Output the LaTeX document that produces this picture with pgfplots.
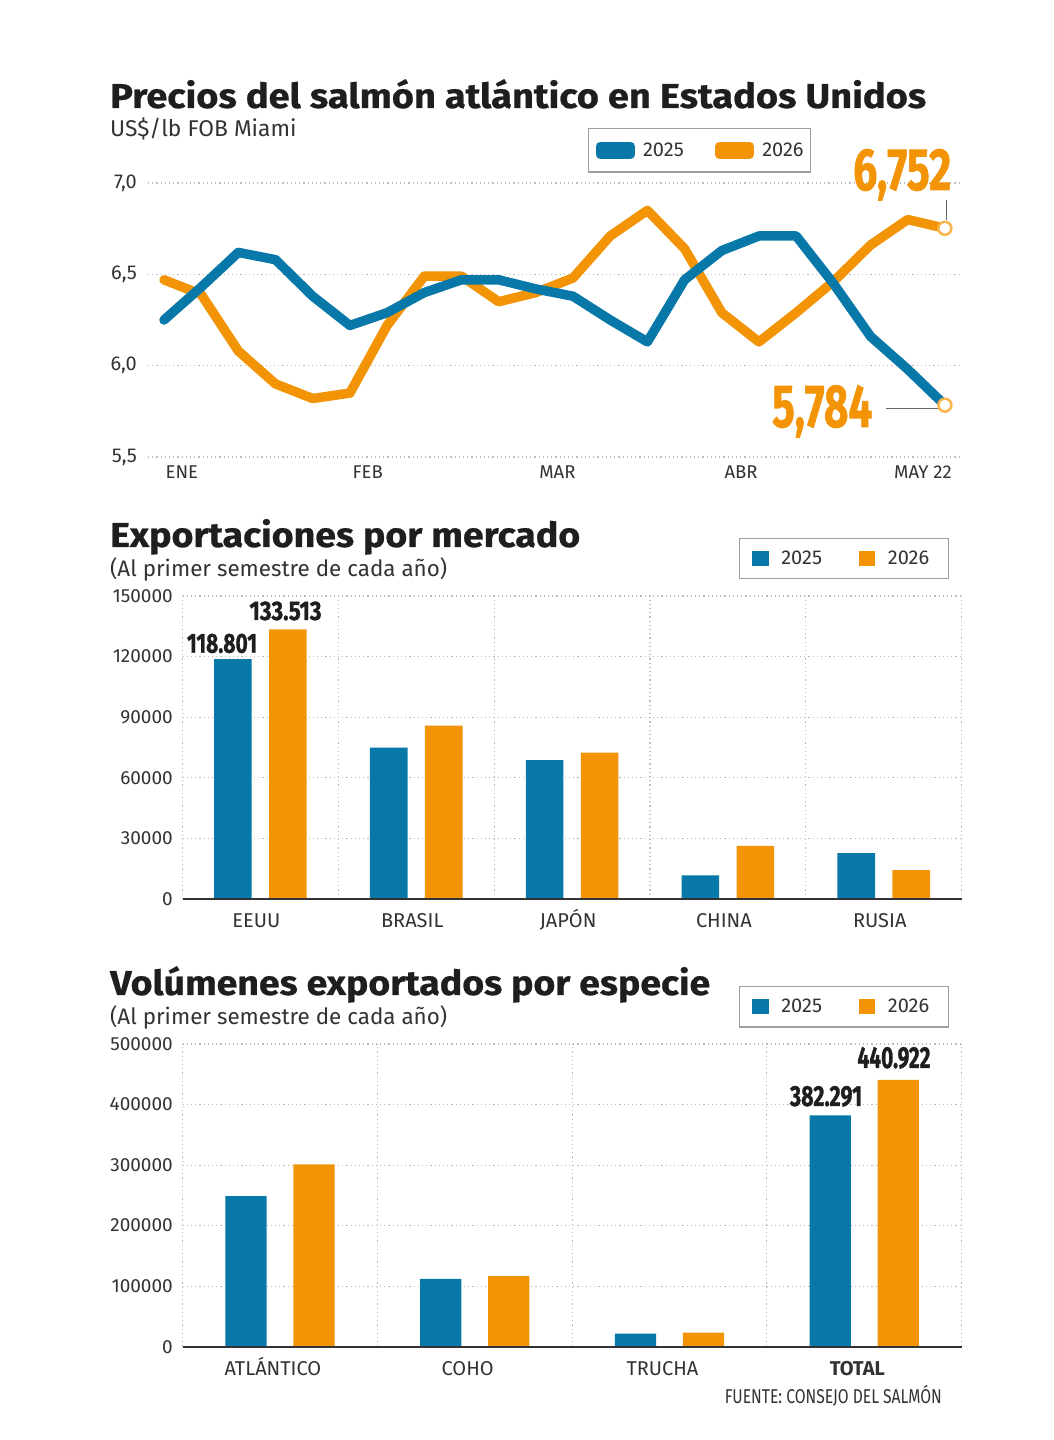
\documentclass[border=0pt]{standalone}
\usepackage{pgfplots}
\pgfplotsset{compat=1.18}
\usepackage{fontspec}
\setmainfont{Fira Sans}
\newfontfamily\titlefont{Fira Sans}[BoldFeatures={FakeBold=0.6}]
\newfontfamily\numfont{Fira Sans}[BoldFeatures={FakeBold=1.2}]
\usepackage{graphicx}
\definecolor{cblue}{HTML}{0878A8}
\definecolor{corange}{HTML}{F39407}
\definecolor{clight}{HTML}{F7B54A}
\definecolor{txt}{HTML}{1E1E1E}
\definecolor{tickc}{HTML}{333333}
\definecolor{gridc}{HTML}{BBBBBB}
\newcommand\fs[1]{\fontsize{#1}{#1}\selectfont}
\pgfplotsset{
  common/.style={
    scale only axis,
    axis line style={draw=none},
    major tick length=0pt, minor tick length=0pt,
    tick style={draw=none},
    grid style={gridc, line width=1.1pt, dash pattern=on 1.2pt off 3pt},
    minor grid style={gridc, line width=1.1pt, dash pattern=on 1.2pt off 3pt},
    tick label style={text=tickc},
    /pgf/number format/assume math mode=true,
    clip=false,
  },
  barlegend/.style={
    legend columns=2,
    legend style={anchor=north west, draw=gray!75, line width=1.1pt,
      font=\fs{20}, text=tickc, inner xsep=12.4pt, inner ysep=12.5pt,
      nodes={inner sep=0pt, text=tickc},
      /tikz/every odd column/.append style={column sep=12.7pt},
      /tikz/every even column/.append style={column sep=36.6pt}},
  },
}
\begin{document}
\begin{tikzpicture}
\path[use as bounding box] (0pt,0pt) rectangle (1054pt,1440pt);
\fill[white] (0pt,0pt) rectangle (1054pt,1440pt);

% ---------- titles ----------
\node[anchor=base west, inner sep=0pt, text=txt] at (110pt,1332pt) {\resizebox{816pt}{\height}{\fs{34.5}\titlefont\bfseries Precios del salmón atlántico en Estados Unidos}};
\node[anchor=base west, inner sep=0pt, text=tickc, font=\fs{22.8}] at (110pt,1303pt) {US\$/lb FOB Miami};

\node[anchor=base west, inner sep=0pt, text=txt] at (110pt,893pt) {\resizebox{470pt}{\height}{\fs{34.5}\titlefont\bfseries Exportaciones por mercado}};
\node[anchor=base west, inner sep=0pt, text=tickc, font=\fs{22.4}] at (110pt,863pt) {(Al primer semestre de cada año)};

\node[anchor=base west, inner sep=0pt, text=txt] at (110pt,445pt) {\resizebox{600pt}{\height}{\fs{34.5}\titlefont\bfseries Volúmenes exportados por especie}};
\node[anchor=base west, inner sep=0pt, text=tickc, font=\fs{22.4}] at (110pt,415pt) {(Al primer semestre de cada año)};

% ---------- line chart ----------
\begin{axis}[common,
  at={(148pt,983pt)}, anchor=south west, width=814pt, height=274pt,
  xmin=-0.43, xmax=21.46, ymin=5.5, ymax=7.0,
  ytick={5.5,6.0,6.5,7.0}, ymajorgrids,
  yticklabel style={anchor=east, inner sep=0pt, xshift=-11pt, font=\fs{20},
    /pgf/number format/.cd, use comma, fixed, fixed zerofill, precision=1},
  xtick={0.48,5.48,10.58,15.52,20.41}, xticklabels={ENE,FEB,MAR,ABR,MAY 22},
  xticklabel style={anchor=base, inner sep=0pt, yshift=-22pt, font=\fs{18.5}},
  legend columns=2, reverse legend,
  legend style={at={(0.5405,1.2007)}, anchor=north west, draw=gray!75, line width=1.1pt,
    font=\fs{20}, inner xsep=7pt, inner ysep=13pt,
    nodes={inner sep=0pt, text=tickc},
    /tikz/every odd column/.append style={column sep=8pt},
    /tikz/every even column/.append style={column sep=31pt}},
  legend image code/.code={\path (0pt,-4pt) rectangle (30pt,4pt);
    \draw[line width=8pt, line cap=round] (4pt,0pt) -- (26pt,0pt);},
]
\addplot[corange, line width=9.5pt, line join=round, line cap=round] coordinates {
(0,6.47) (1,6.39) (2,6.08) (3,5.90) (4,5.82) (5,5.85) (6,6.22) (7,6.49)
(8,6.49) (9,6.35) (10,6.40) (11,6.48) (12,6.71) (13,6.85) (14,6.64) (15,6.29)
(16,6.13) (17,6.29) (18,6.46) (19,6.66) (20,6.80) (21,6.752)};
\addlegendentry{2026}
\addplot[cblue, line width=9.5pt, line join=round, line cap=round] coordinates {
(0,6.25) (1,6.43) (2,6.62) (3,6.58) (4,6.38) (5,6.22) (6,6.29) (7,6.40)
(8,6.47) (9,6.47) (10,6.42) (11,6.38) (12,6.25) (13,6.13) (14,6.47) (15,6.63)
(16,6.71) (17,6.71) (18,6.45) (19,6.16) (20,5.98) (21,5.784)};
\addlegendentry{2025}
\addplot[only marks, mark=*, mark size=6.5pt, forget plot,
  mark options={fill=white, draw=clight, line width=2.5pt}] coordinates {(21,6.752) (21,5.784)};
\end{axis}
\draw[gray!80!black, line width=1.3pt] (946.7pt,1240pt) -- (946.7pt,1220pt);
\draw[gray!80!black, line width=1.3pt] (886pt,1031.3pt) -- (938pt,1031.3pt);
\node[anchor=base west, inner sep=0pt, text=corange] at (853pt,1250pt) {\resizebox{98pt}{41pt}{\numfont\bfseries 6,752}};
\node[anchor=base west, inner sep=0pt, text=corange] at (772pt,1013pt) {\resizebox{100pt}{42pt}{\numfont\bfseries 5,784}};

% ---------- bar chart 1 ----------
\begin{axis}[common, barlegend,
  at={(182.5pt,541pt)}, anchor=south west, width=779.2pt, height=303pt,
  ybar=17.4pt, bar width=37.6pt,
  xmin=-0.5, xmax=4.5, ymin=0, ymax=150000,
  xtick={0,1,2,3,4}, xticklabels={EEUU,BRASIL,JAPÓN,CHINA,RUSIA},
  minor xtick={-0.5,0.5,1.5,2.5,3.5,4.5}, xminorgrids, ymajorgrids,
  ytick={0,30000,60000,90000,120000,150000},
  scaled y ticks=false,
  yticklabel style={anchor=east, inner sep=0pt, xshift=-9.5pt, font=\fs{19},
    /pgf/number format/.cd, fixed, set thousands separator={}},
  xticklabel style={anchor=base, inner sep=0pt, yshift=-29pt, xshift=-4pt, font=\fs{20}},
  legend style={at={(0.7142,1.1914)}},
  legend image code/.code={\fill (0pt,-7.7pt) rectangle (16.6pt,7.7pt);},
]
\addplot[fill=cblue, draw=none, legend image code/.code={\fill (0pt,-7.7pt) rectangle (16.6pt,7.7pt);}] coordinates {(0,118801) (1,74900) (2,68700) (3,11700) (4,22700)};
\addlegendentry{2025}
\addplot[fill=corange, draw=none, legend image code/.code={\fill (0pt,-7.7pt) rectangle (16.6pt,7.7pt);}] coordinates {(0,133513) (1,85800) (2,72400) (3,26300) (4,14300)};
\addlegendentry{2026\hspace*{7pt}}
\draw[tickc, line width=1.8pt] (axis cs:-0.5,0) -- (axis cs:4.5,0);
\node[anchor=base, inner sep=0pt, text=txt, xshift=-38.4pt, yshift=6.3pt] at (axis cs:0,118801) {\resizebox{70pt}{19pt}{\numfont\bfseries 118.801}};
\node[anchor=base, inner sep=0pt, text=txt, xshift=25.1pt, yshift=9.3pt] at (axis cs:0,133513) {\resizebox{72pt}{18.5pt}{\numfont\bfseries 133.513}};
\end{axis}

% ---------- bar chart 2 ----------
\begin{axis}[common, barlegend,
  at={(182.5pt,93.3pt)}, anchor=south west, width=779.2pt, height=302.7pt,
  ybar=26.7pt, bar width=41.3pt,
  xmin=-0.5, xmax=3.5, ymin=0, ymax=500000,
  xtick={0,1,2,3}, xticklabels={ATLÁNTICO,COHO,TRUCHA,\textbf{TOTAL}},
  minor xtick={-0.5,0.5,1.5,2.5,3.5}, xminorgrids, ymajorgrids,
  ytick={0,100000,200000,300000,400000,500000},
  scaled y ticks=false,
  yticklabel style={anchor=east, inner sep=0pt, xshift=-9.5pt, font=\fs{19},
    /pgf/number format/.cd, fixed, set thousands separator={}},
  xticklabel style={anchor=base, inner sep=0pt, yshift=-28.8pt, xshift=-7pt, font=\fs{20}},
  legend style={at={(0.7142,1.1916)}},
  legend image code/.code={\fill (0pt,-7.7pt) rectangle (16.6pt,7.7pt);},
]
\addplot[fill=cblue, draw=none, legend image code/.code={\fill (0pt,-7.7pt) rectangle (16.6pt,7.7pt);}] coordinates {(0,248800) (1,112000) (2,21500) (3,382291)};
\addlegendentry{2025}
\addplot[fill=corange, draw=none, legend image code/.code={\fill (0pt,-7.7pt) rectangle (16.6pt,7.7pt);}] coordinates {(0,301100) (1,116700) (2,23122) (3,440922)};
\addlegendentry{2026\hspace*{7pt}}
\draw[tickc, line width=1.8pt] (axis cs:-0.5,0) -- (axis cs:3.5,0);
\node[anchor=base, inner sep=0pt, text=txt, xshift=-38.3pt, yshift=9.3pt] at (axis cs:3,382291) {\resizebox{72pt}{20pt}{\numfont\bfseries 382.291}};
\node[anchor=base, inner sep=0pt, text=txt, xshift=29.7pt, yshift=11.8pt] at (axis cs:3,440922) {\resizebox{73pt}{21pt}{\numfont\bfseries 440.922}};
\end{axis}

\node[anchor=base east, inner sep=0pt, text=tickc] at (942pt,36pt) {\resizebox{217pt}{\height}{\fs{20}FUENTE: CONSEJO DEL SALMÓN}};
\end{tikzpicture}
\end{document}
